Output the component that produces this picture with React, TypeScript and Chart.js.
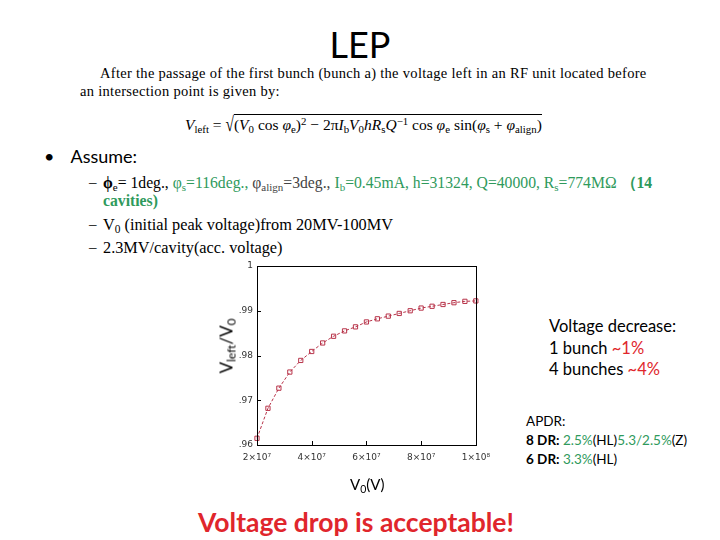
import React, { useEffect, useRef } from "react";
import { Chart, registerables } from "chart.js";
Chart.register(...registerables);

const v0Values = [2e7, 2.4e7, 2.8e7, 3.2e7, 3.6e7, 4.0e7, 4.4e7, 4.8e7, 5.2e7, 5.6e7, 6.0e7, 6.4e7, 6.8e7, 7.2e7, 7.6e7, 8.0e7, 8.4e7, 8.8e7, 9.2e7, 9.6e7, 1.0e8];
const ratioValues = [0.9615, 0.9682, 0.9727, 0.9763, 0.9789, 0.9809, 0.9828, 0.9843, 0.9855, 0.9864, 0.9875, 0.9882, 0.9888, 0.9894, 0.9900, 0.9906, 0.9910, 0.9914, 0.9918, 0.9921, 0.9922];
const xTickLabels = ["2×10⁷", "4×10⁷", "6×10⁷", "8×10⁷", "1×10⁸"];
const yTickLabels = [".96", ".97", ".98", ".99", "1"];

const LINE = "#b8344a";

const frame = {
  id: "frame",
  afterDraw(chart: any) {
    const { ctx, chartArea } = chart;
    const { left, right, top, bottom } = chartArea;
    ctx.save();
    ctx.strokeStyle = "#000";
    ctx.lineWidth = 1;
    ctx.strokeRect(Math.round(left) + 0.5, Math.round(top) + 0.5, Math.round(right - left), Math.round(bottom - top));
    const xs = chart.scales.x;
    const ys = chart.scales.y;
    ctx.beginPath();
    xs.ticks.forEach((t: any) => {
      const p = Math.round(xs.getPixelForValue(t.value)) + 0.5;
      ctx.moveTo(p, bottom);
      ctx.lineTo(p, bottom - 4);
    });
    ys.ticks.forEach((t: any) => {
      const p = Math.round(ys.getPixelForValue(t.value)) + 0.5;
      ctx.moveTo(left, p);
      ctx.lineTo(left + 4, p);
    });
    ctx.stroke();
    ctx.restore();
  },
};

function LeftChart() {
  const ref = useRef<HTMLCanvasElement>(null);
  useEffect(() => {
    const chart = new Chart(ref.current!, {
      type: "line",
      data: {
        datasets: [
          {
            data: v0Values.map((x, i) => ({ x, y: ratioValues[i] })),
            borderColor: LINE,
            borderWidth: 1,
            borderDash: [3, 2],
            pointStyle: "rect",
            pointRadius: 3,
            pointBorderColor: LINE,
            pointBackgroundColor: "rgba(255,255,255,0)",
            pointBorderWidth: 1,
            tension: 0,
            clip: false as any,
          },
        ],
      },
      options: {
        animation: false,
        responsive: false,
        layout: { padding: { top: 10, right: 13, left: 0, bottom: 0 } },
        plugins: { legend: { display: false }, tooltip: { enabled: false } },
        scales: {
          x: {
            type: "linear",
            min: 2e7,
            max: 1e8,
            afterBuildTicks: (s: any) => {
              s.ticks = xTickLabels.map((_, i) => ({ value: 2e7 + i * 2e7 }));
            },
            afterFit: (s: any) => {
              s.height = 31;
            },
            grid: { display: false, drawTicks: false },
            border: { display: false },
            ticks: {
              maxRotation: 0,
              autoSkip: false,
              padding: 7,
              color: "#333",
              font: { family: "DejaVu Sans", size: 9 },
              callback: (_v: any, i: number) => xTickLabels[i],
            },
          },
          y: {
            type: "linear",
            min: 0.96,
            max: 1,
            afterBuildTicks: (s: any) => {
              s.ticks = yTickLabels.map((_, i) => ({ value: 0.96 + i * 0.01 }));
            },
            afterFit: (s: any) => {
              s.width = 25;
            },
            grid: { display: false, drawTicks: false },
            border: { display: false },
            ticks: {
              padding: 4,
              autoSkip: false,
              color: "#333",
              font: { family: "DejaVu Sans", size: 9 },
              callback: (_v: any, i: number) => yTickLabels[i],
            },
          },
        },
      },
      plugins: [frame],
    });
    return () => chart.destroy();
  }, []);
  return <canvas ref={ref} width={265} height={220} style={{ position: "absolute", left: 232, top: 256 }} />;
}

const GREEN = "#2f9a5c";
const RED = "#e0262c";

const abs = (left: number, top: number, extra: React.CSSProperties = {}): React.CSSProperties => ({
  position: "absolute",
  left,
  top,
  lineHeight: 1,
  whiteSpace: "nowrap",
  ...extra,
});

export default function App() {
  const serif = "'Liberation Serif', 'DejaVu Serif', serif";
  const sans = "Lato, 'Open Sans', sans-serif";
  const subS: React.CSSProperties = { fontSize: "0.7em", verticalAlign: "-0.25em", lineHeight: 0 };
  const supS: React.CSSProperties = { fontSize: "0.7em", verticalAlign: "0.45em", lineHeight: 0 };
  return (
    <div style={{ position: "absolute", left: 0, top: 0, width: 720, height: 540, background: "#fff", overflow: "hidden", color: "#000" }}>
      <div style={abs(0, 26, { width: 720, textAlign: "center", fontFamily: sans, fontSize: 36 })}>LEP</div>
      <div style={abs(100, 66, { fontFamily: serif, fontSize: 14.5, letterSpacing: 0.3 })}>
        After the passage of the first bunch (bunch a) the voltage left in an RF unit located before
      </div>
      <div style={abs(80, 84, { fontFamily: serif, fontSize: 14.5, letterSpacing: 0.3 })}>an intersection point is given by:</div>
      <div style={abs(185, 117, { fontFamily: serif, fontSize: 15.5 })}>
        <i>V</i>
        <span style={subS}>left</span> ={" "}
        <span style={{ display: "inline-block", transform: "scale(1, 1.35)", transformOrigin: "50% 70%" }}>√</span>
        <span style={{ borderTop: "1px solid #000", paddingTop: 1 }}>
          (<i>V</i>
          <span style={subS}>0</span> cos <i>φ</i>
          <span style={subS}>e</span>)<span style={supS}>2</span> − 2π<i>I</i>
          <span style={subS}>b</span>
          <i>V</i>
          <span style={subS}>0</span>
          <i>hR</i>
          <span style={subS}>s</span>
          <i>Q</i>
          <span style={supS}>−1</span> cos <i>φ</i>
          <span style={subS}>e</span> sin(<i>φ</i>
          <span style={subS}>s</span> + <i>φ</i>
          <span style={subS}>align</span>)
        </span>
      </div>

      <div style={abs(44, 147, { fontFamily: sans, fontSize: 18 })}>
        •<span style={{ marginLeft: 16 }}>Assume:</span>
      </div>

      <div style={abs(89, 175, { fontFamily: serif, fontSize: 15 })}>–</div>
      <div style={abs(103, 175, { fontFamily: serif, fontSize: 15.7 })}>
        <b>ϕ</b>
        <span style={subS}>e</span>= 1deg., <span style={{ color: GREEN }}>φ<span style={subS}>s</span>=116deg.,</span>{" "}
        <span style={{ color: "#444" }}>
          φ<span style={subS}>align</span>=3deg.,
        </span>{" "}
        <span style={{ color: GREEN }}>
          I<span style={subS}>b</span>=0.45mA, h=31324, Q=40000, R<span style={subS}>s</span>=774MΩ <b>（14</b>
        </span>
      </div>
      <div style={abs(103, 193, { fontFamily: serif, fontSize: 15.7, color: GREEN, fontWeight: "bold" })}>cavities)</div>
      <div style={abs(89, 217, { fontFamily: serif, fontSize: 15 })}>–</div>
      <div style={abs(103, 217, { fontFamily: serif, fontSize: 16.3 })}>
        V<span style={subS}>0</span> (initial peak voltage)from 20MV-100MV
      </div>
      <div style={abs(89, 240, { fontFamily: serif, fontSize: 15 })}>–</div>
      <div style={abs(103, 240, { fontFamily: serif, fontSize: 16.3 })}>2.3MV/cavity(acc. voltage)</div>

      <LeftChart />

      <div
        style={abs(226, 346, {
          fontFamily: sans,
          fontSize: 17,
          transform: "translate(-50%, -50%) rotate(-90deg)",
        })}
      >
        V<span style={subS}>left</span>/V<span style={subS}>0</span>
      </div>
      <div style={abs(350, 477, { fontFamily: sans, fontSize: 15 })}>
        V<span style={subS}>0</span>(V)
      </div>

      <div style={abs(549, 316, { fontFamily: sans, fontSize: 16.5, lineHeight: "21.5px" })}>
        Voltage decrease:
        <br />1 bunch <span style={{ color: RED }}>~1%</span>
        <br />4 bunches <span style={{ color: RED }}>~4%</span>
      </div>

      <div style={abs(526, 412, { fontFamily: sans, fontSize: 13.5, lineHeight: "19px" })}>
        APDR:
        <br />
        <b>8 DR:</b> <span style={{ color: GREEN }}>2.5%</span>(HL)<span style={{ color: GREEN }}>5.3/2.5%</span>(Z)
        <br />
        <b>6 DR:</b> <span style={{ color: GREEN }}>3.3%</span>(HL)
      </div>

      <div style={abs(0, 509, { width: 712, textAlign: "center", fontFamily: sans, fontSize: 26.5, fontWeight: "bold", color: RED })}>
        Voltage drop is acceptable!
      </div>
    </div>
  );
}
